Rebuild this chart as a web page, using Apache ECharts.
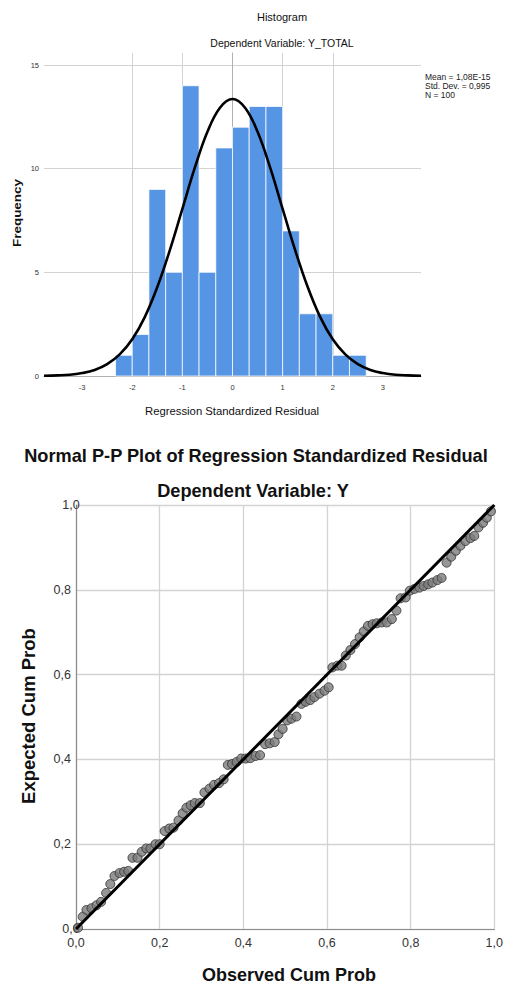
<!DOCTYPE html>
<html>
<head>
<meta charset="utf-8">
<script src="https://cdn.jsdelivr.net/npm/echarts@6/dist/echarts.min.js"></script>
<style>
html,body{margin:0;padding:0;background:#fff;}
#c{width:506px;height:987px;}
</style>
</head>
<body>
<div id="c"></div>
<script>
// ---------- Histogram data ----------
const binEdges = [-2.333, -2.0, -1.667, -1.333, -1.0, -0.667, -0.333, 0.0, 0.333, 0.667, 1.0, 1.333, 1.667, 2.0, 2.333, 2.667];
const binCounts = [1, 2, 9, 5, 14, 5, 11, 12, 13, 13, 7, 3, 3, 1, 1];
const histXTicks = [-3, -2, -1, 0, 1, 2, 3];
const histStats = ['Mean = 1,08E-15', 'Std. Dev. = 0,995', 'N = 100'];
// normal curve
const curveX = [-3.76,-3.5,-3.25,-3,-2.75,-2.5,-2.25,-2,-1.75,-1.5,-1.25,-1,-0.75,-0.5,-0.25,0,0.25,0.5,0.75,1,1.25,1.5,1.75,2,2.25,2.5,2.75,3,3.25,3.5,3.76];
const curveY = [0.01,0.03,0.06,0.14,0.29,0.57,1.04,1.77,2.84,4.29,6.07,8.06,10.06,11.78,12.94,13.36,12.94,11.78,10.06,8.06,6.07,4.29,2.84,1.77,1.04,0.57,0.29,0.14,0.06,0.03,0.01];

// ---------- P-P plot data ----------
const obsCum = [0.005,0.016,0.025,0.037,0.049,0.060,0.072,0.082,0.092,0.104,
0.115,0.125,0.135,0.147,0.157,0.168,0.178,0.190,0.200,0.212,
0.223,0.233,0.245,0.255,0.264,0.274,0.284,0.296,0.307,0.319,
0.330,0.342,0.353,0.363,0.373,0.384,0.395,0.406,0.417,0.429,
0.440,0.452,0.463,0.475,0.484,0.494,0.505,0.515,0.527,0.539,
0.549,0.560,0.570,0.582,0.594,0.604,0.613,0.625,0.635,0.645,
0.656,0.667,0.678,0.688,0.698,0.709,0.719,0.731,0.743,0.755,
0.766,0.776,0.788,0.798,0.809,0.821,0.831,0.842,0.852,0.864,
0.874,0.886,0.897,0.908,0.919,0.931,0.943,0.952,0.962,0.973,
0.982,0.992];
const expCum = [0.003,0.029,0.045,0.049,0.056,0.064,0.085,0.106,0.125,0.132,
0.135,0.137,0.168,0.168,0.182,0.190,0.190,0.200,0.200,0.231,
0.237,0.239,0.256,0.273,0.286,0.292,0.297,0.297,0.322,0.331,
0.340,0.344,0.353,0.387,0.389,0.394,0.402,0.402,0.403,0.408,
0.410,0.436,0.438,0.441,0.459,0.472,0.492,0.496,0.501,0.531,
0.536,0.540,0.547,0.555,0.562,0.570,0.617,0.621,0.621,0.645,
0.658,0.672,0.688,0.702,0.715,0.719,0.721,0.723,0.723,0.731,
0.751,0.780,0.782,0.798,0.802,0.805,0.809,0.813,0.817,0.823,
0.828,0.864,0.878,0.892,0.904,0.915,0.922,0.927,0.947,0.958,
0.970,0.985];
const refLineX = [0, 1];
const refLineY = [0, 1];

// ---------- build ----------
const FONT = 'Liberation Sans, Arial, sans-serif';
const histData = binCounts.map((c, i) => [binEdges[i], binEdges[i + 1], c]);
const curveData = curveX.map((x, i) => [x, curveY[i]]);
const ppData = obsCum.map((x, i) => [x, expCum[i]]);
const refData = refLineX.map((x, i) => [x, refLineY[i]]);
const comma = v => v.toFixed(1).replace('.', ',');

const chart = echarts.init(document.getElementById('c'), null, {renderer: 'svg'});
const gridColor = '#d3d3d3';

chart.setOption({
  animation: false,
  backgroundColor: '#fff',
  grid: [
    {left: 44, right: 85, top: 53, bottom: 611, containLabel: false},
    {left: 76, right: 5, top: 505, bottom: 58, containLabel: false}
  ],
  xAxis: [
    {
      gridIndex: 0, type: 'value', min: -3.76, max: 3.76,
      axisLine: {show: true, lineStyle: {color: '#b0b0b0', width: 1}},
      axisTick: {show: false, customValues: histXTicks},
      axisLabel: {customValues: histXTicks, fontSize: 7.5, color: '#333', margin: 7, fontFamily: FONT, formatter: v => String(Math.round(v))},
      splitLine: {show: true, showMinLine: false, showMaxLine: false, lineStyle: {color: gridColor, width: 1}}
    },
    {
      gridIndex: 1, type: 'value', min: 0, max: 1, interval: 0.2,
      axisLine: {show: true, lineStyle: {color: '#8c8c8c', width: 1.2}},
      axisTick: {show: false},
      axisLabel: {fontSize: 12.5, color: '#333', margin: 7, fontFamily: FONT, formatter: comma,
        alignMinLabel: 'center', alignMaxLabel: 'center'},
      splitLine: {show: true, lineStyle: {color: gridColor, width: 1.3}}
    }
  ],
  yAxis: [
    {
      gridIndex: 0, type: 'value', min: 0, max: 15.58, interval: 5,
      axisLine: {show: true, lineStyle: {color: '#b0b0b0', width: 1}},
      axisTick: {show: false},
      axisLabel: {fontSize: 7.5, color: '#333', margin: 5, fontFamily: FONT, showMaxLabel: false,
        formatter: v => (v % 5 === 0 ? String(v) : '')},
      splitLine: {show: true, showMinLine: false, showMaxLine: false, lineStyle: {color: gridColor, width: 1}}
    },
    {
      gridIndex: 1, type: 'value', min: 0, max: 1, interval: 0.2,
      axisLine: {show: true, lineStyle: {color: '#8c8c8c', width: 1.2}},
      axisTick: {show: false},
      axisLabel: {fontSize: 12.5, color: '#333', margin: 5, fontFamily: FONT, formatter: comma,
        alignMinLabel: 'center', alignMaxLabel: 'center'},
      splitLine: {show: true, lineStyle: {color: gridColor, width: 1.3}}
    }
  ],
  series: [
    {
      type: 'custom', xAxisIndex: 0, yAxisIndex: 0, z: 2,
      data: histData,
      encode: {x: [0, 1], y: 2},
      renderItem: (params, api) => {
        const p0 = api.coord([api.value(0), api.value(2)]);
        const p1 = api.coord([api.value(1), 0]);
        return {
          type: 'rect',
          shape: {x: p0[0], y: p0[1], width: p1[0] - p0[0], height: p1[1] - p0[1]},
          style: {fill: '#5694e4', stroke: 'rgba(255,255,255,0.75)', lineWidth: 1}
        };
      }
    },
    {
      type: 'line', xAxisIndex: 0, yAxisIndex: 0, z: 3,
      data: curveData, smooth: 0.4, symbol: 'none',
      lineStyle: {color: '#000', width: 2.6}
    },
    {
      type: 'scatter', xAxisIndex: 1, yAxisIndex: 1, z: 3,
      data: ppData, symbol: 'circle', symbolSize: 9,
      itemStyle: {color: '#7c7c7c', borderColor: '#303030', borderWidth: 1}
    },
    {
      type: 'line', xAxisIndex: 1, yAxisIndex: 1, z: 4,
      data: refData, symbol: 'none',
      lineStyle: {color: '#000', width: 3}
    }
  ],
  graphic: [
    {type: 'text', x: 282, y: 16.5, style: {text: 'Histogram', fill: '#111', font: '11px ' + FONT, align: 'center', verticalAlign: 'middle'}},
    {type: 'text', x: 282, y: 43, style: {text: 'Dependent Variable: Y_TOTAL', fill: '#111', font: '10.5px ' + FONT, align: 'center', verticalAlign: 'middle'}},
    {type: 'text', x: 425, y: 76.5, style: {text: histStats[0], fill: '#222', font: '8.5px Liberation Sans Narrow, ' + FONT, align: 'left', verticalAlign: 'middle'}},
    {type: 'text', x: 425, y: 85.5, style: {text: histStats[1], fill: '#222', font: '8.5px Liberation Sans Narrow, ' + FONT, align: 'left', verticalAlign: 'middle'}},
    {type: 'text', x: 425, y: 94.5, style: {text: histStats[2], fill: '#222', font: '8.5px Liberation Sans Narrow, ' + FONT, align: 'left', verticalAlign: 'middle'}},
    {type: 'text', x: 18, y: 213, rotation: Math.PI / 2, scaleX: 1.35, style: {text: 'Frequency', fill: '#111', font: 'bold 10px ' + FONT, align: 'center', verticalAlign: 'middle'}},
    {type: 'text', x: 232, y: 411, style: {text: 'Regression Standardized Residual', fill: '#111', font: '11.3px ' + FONT, align: 'center', verticalAlign: 'middle'}},
    {type: 'text', x: 256, y: 456, style: {text: 'Normal P-P Plot of Regression Standardized Residual', fill: '#111', font: 'bold 18.2px ' + FONT, align: 'center', verticalAlign: 'middle'}},
    {type: 'text', x: 253, y: 491, style: {text: 'Dependent Variable: Y', fill: '#111', font: 'bold 18.2px ' + FONT, align: 'center', verticalAlign: 'middle'}},
    {type: 'text', x: 28, y: 716, rotation: Math.PI / 2, style: {text: 'Expected Cum Prob', fill: '#111', font: 'bold 18.5px ' + FONT, align: 'center', verticalAlign: 'middle'}},
    {type: 'text', x: 289, y: 975, style: {text: 'Observed Cum Prob', fill: '#111', font: 'bold 18px ' + FONT, align: 'center', verticalAlign: 'middle'}}
  ]
});
</script>
</body>
</html>
